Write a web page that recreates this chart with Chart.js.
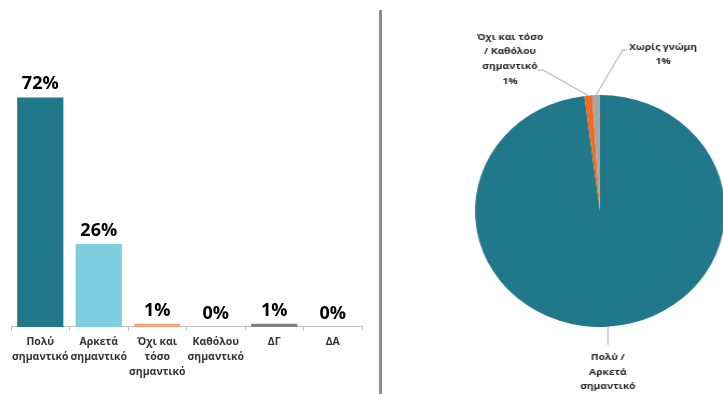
<!DOCTYPE html>
<html>
<head>
<meta charset="utf-8">
<script src="https://cdn.jsdelivr.net/npm/chart.js@4"></script>
<style>
  html, body { margin: 0; padding: 0; background: #fff; overflow: hidden; width: 723px; height: 394px; }
  #barWrap { position: absolute; left: 0; top: 0; width: 372px; height: 394px; }
  #pieWrap { position: absolute; left: 382px; top: 0; width: 341px; height: 394px; transform: scaleX(1.078); transform-origin: 218px 0; }
  #sep { position: absolute; left: 379px; top: 10px; width: 3px; height: 384px; background: #8c8c8c; }
</style>
</head>
<body>
<div id="barWrap"><canvas id="barChart" width="372" height="394"></canvas></div>
<div id="pieWrap"><canvas id="pieChart" width="341" height="394"></canvas></div>
<div id="sep"></div>
<script>
// bar chart data
const barLabels = [['Πολύ', 'σημαντικό'], ['Αρκετά', 'σημαντικό'], ['Όχι και', 'τόσο', 'σημαντικό'], ['Καθόλου', 'σημαντικό'], ['ΔΓ'], ['ΔΑ']];
const barValues = [72, 26, 1, 0, 1, 0];
const barColors = ['#22788b', '#7ecde1', '#f4a57c', '#bfbfbf', '#7f7f7f', '#bfbfbf'];

// pie chart data
const pieLabels = [['Πολύ /', 'Αρκετά', 'σημαντικό'], ['Όχι και τόσο', '/ Καθόλου', 'σημαντικό'], ['Χωρίς γνώμη']];
const pieValues = [98, 1, 1];
const pieColors = ['#22788b', '#f26b21', '#a6a6a6'];

const FONT = "'Open Sans', sans-serif";

// draws the % above each bar
const barValuePlugin = {
  id: 'barValues',
  afterDatasetsDraw(chart) {
    const ctx = chart.ctx;
    const meta = chart.getDatasetMeta(0);
    ctx.save();
    ctx.font = 'bold 18px ' + FONT;
    ctx.fillStyle = '#000';
    ctx.textAlign = 'center';
    ctx.textBaseline = 'alphabetic';
    meta.data.forEach((bar, i) => {
      ctx.fillText(barValues[i] + '%', bar.x, bar.y - 8);
    });
    ctx.restore();
  }
};

new Chart(document.getElementById('barChart'), {
  type: 'bar',
  data: {
    labels: barLabels,
    datasets: [{
      data: barValues,
      backgroundColor: barColors,
      borderWidth: 0,
      categoryPercentage: 0.79,
      barPercentage: 1
    }]
  },
  options: {
    responsive: false,
    animation: false,
    layout: { padding: { left: 11, right: 10, top: 72, bottom: 11 } },
    plugins: { legend: { display: false }, tooltip: { enabled: false } },
    scales: {
      x: {
        border: { display: true, color: '#bfbfbf', width: 1 },
        grid: { offset: true, drawOnChartArea: false, drawTicks: true, tickLength: 4, color: '#bfbfbf' },
        ticks: {
          color: '#333',
          padding: 4,
          maxRotation: 0,
          autoSkip: false,
          font: { family: FONT, size: 10.5, weight: 'bold', lineHeight: 1.4 }
        }
      },
      y: { display: false, min: 0, max: 80 }
    }
  },
  plugins: [barValuePlugin]
});

// labels and leader lines around the pie
const pieLabelPlugin = {
  id: 'pieLabels',
  afterDatasetsDraw(chart) {
    const ctx = chart.ctx;
    const arcs = chart.getDatasetMeta(0).data;
    const cx = arcs[0].x, cy = arcs[0].y, r = arcs[0].outerRadius;
    const edge = (a) => {
      const mid = (a.startAngle + a.endAngle) / 2;
      return [cx + Math.cos(mid) * r, cy + Math.sin(mid) * r];
    };
    ctx.save();
    ctx.strokeStyle = '#a6a6a6';
    ctx.lineWidth = 1;
    ctx.font = 'bold 9.5px ' + FONT;
    ctx.fillStyle = '#262626';
    ctx.textAlign = 'center';
    ctx.textBaseline = 'middle';

    // big slice - below the pie
    let p = edge(arcs[0]);
    ctx.beginPath();
    ctx.moveTo(p[0], p[1]);
    ctx.lineTo(p[0], p[1] + 18);
    ctx.stroke();
    pieLabels[0].forEach((t, i) => ctx.fillText(t, p[0], p[1] + 31 + i * 14.5));

    // orange slice - upper left
    p = edge(arcs[1]);
    ctx.beginPath();
    ctx.moveTo(p[0], p[1]);
    ctx.lineTo(cx - 53, cy - 141);
    ctx.lineTo(cx - 58, cy - 141);
    ctx.stroke();
    const lines1 = pieLabels[1].concat([pieValues[1] + '%']);
    lines1.forEach((t, i) => ctx.fillText(t, cx - 83.5, cy - 174 + i * 14.7));

    // gray slice - upper right
    p = edge(arcs[2]);
    ctx.beginPath();
    ctx.moveTo(p[0], p[1]);
    ctx.lineTo(cx + 21, cy - 161);
    ctx.lineTo(cx + 25, cy - 161);
    ctx.stroke();
    const lines2 = pieLabels[2].concat([pieValues[2] + '%']);
    lines2.forEach((t, i) => ctx.fillText(t, cx + 58.5, cy - 164 + i * 14.5));
    ctx.restore();
  }
};

new Chart(document.getElementById('pieChart'), {
  type: 'pie',
  data: {
    labels: pieLabels,
    datasets: [{ data: pieValues, backgroundColor: pieColors, borderWidth: 0 }]
  },
  options: {
    responsive: false,
    animation: false,
    layout: { padding: { left: 102, right: 7, top: 95, bottom: 67 } },
    plugins: { legend: { display: false }, tooltip: { enabled: false } }
  },
  plugins: [pieLabelPlugin]
});
</script>
</body>
</html>
